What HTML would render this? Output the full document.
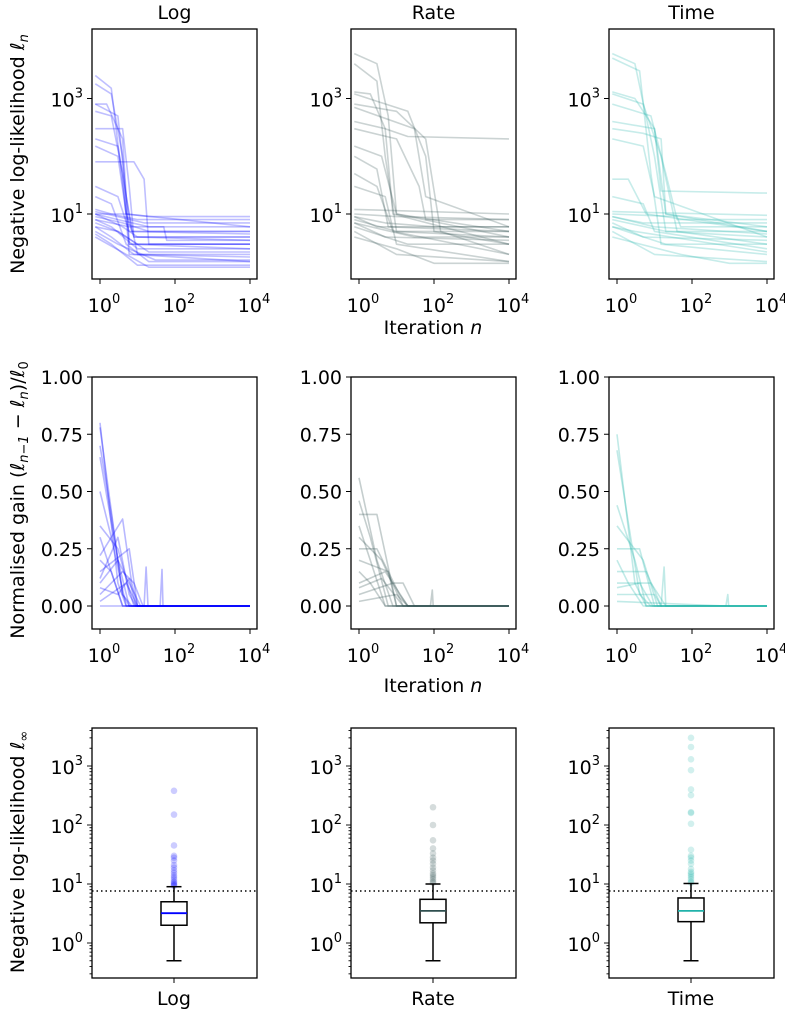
<!DOCTYPE html>
<html><head><meta charset="utf-8">
<style>
html,body{margin:0;padding:0;background:#fff;}
svg{display:block;font-family:"DejaVu Sans","Liberation Sans",sans-serif;}
</style></head>
<body>
<svg id="fig" width="785" height="1014" viewBox="0 0 785 1014" xmlns="http://www.w3.org/2000/svg"></svg>
<script>
// ---------- data ----------
const methods = ["Log","Rate","Time"];
const colors = ["#0000ff","#2f4f4f","#20b2aa"];

const nllLog = [
[[0.75,2500],[2,1500],[5,10],[8,4],[1e4,4]],
[[0.75,1800],[2,1200],[4,100],[6,3],[1e4,3]],
[[0.75,800],[1.5,800],[4,200],[6,3],[1e4,2.5]],
[[0.75,800],[3,500],[5,20],[7,5],[1e4,5]],
[[0.75,300],[4,300],[6,30],[8,4],[1e4,3.5]],
[[0.75,200],[3,150],[6,10],[10,2],[1e4,1.8]],
[[0.75,150],[3,100],[5,10],[1e4,6]],
[[0.75,80],[8,80],[15,40],[20,3],[1e4,3]],
[[0.75,30],[3,20],[6,5],[1e4,4.5]],
[[0.75,20],[2,15],[5,3],[20,1.5],[1e4,1.5]],
[[0.75,12],[2,10],[10,8],[1e4,8]],
[[0.75,10],[5,10],[20,9],[1e4,9]],
[[0.75,10],[3,8],[20,6],[50,6],[60,3.5],[1e4,3.5]],
[[0.75,9],[4,7],[20,5],[1e4,5]],
[[0.75,8],[2,6],[10,2.5],[1e4,2.5]],
[[0.75,7],[3,5],[10,3],[1e4,3]],
[[0.75,6],[2,4],[8,2],[1e4,1.5]],
[[0.75,5],[3,3],[30,1.6],[1e4,1.6]],
[[0.75,4.5],[2,3],[10,1.3],[1e4,1.3]],
[[0.75,4],[5,2],[20,1.2],[1e4,1.2]],
[[0.75,11],[3,9],[15,7],[1e4,7]],
[[0.75,8],[6,6],[1e4,6]],
[[0.75,600],[2,500],[4,50],[6,2],[1e4,2]],
[[0.75,10],[4,6],[10,4],[1e4,4]],
[[0.75,6],[3,5],[20,2.2],[1e4,2.2]]
];
const nllRate = [
[[0.75,6000],[3,4000],[6,500],[10,10],[1e4,5]],
[[0.75,4000],[3,2000],[5,100],[10,5],[1e4,4]],
[[0.75,1300],[2,1200],[5,300],[8,10],[1e4,3]],
[[0.75,1200],[20,600],[60,100],[100,5],[1e4,3]],
[[0.75,800],[10,600],[60,200],[150,5],[1e4,2]],
[[0.75,700],[30,300],[60,20],[1e4,6]],
[[0.75,400],[5,300],[20,220],[1e4,200]],
[[0.75,300],[10,200],[40,30],[60,8],[1e4,8]],
[[0.75,150],[4,100],[10,10],[1e4,4]],
[[0.75,100],[3,60],[6,6],[1e4,5]],
[[0.75,50],[3,30],[8,5],[1e4,2]],
[[0.75,30],[5,20],[10,3],[1e4,1.5]],
[[0.75,12],[1e4,10]],
[[0.75,10],[10,9],[1e4,8]],
[[0.75,9],[5,7],[100,6],[1e4,6]],
[[0.75,8],[10,5],[1e4,5]],
[[0.75,7],[5,4],[1e4,3.5]],
[[0.75,6],[20,3],[1e4,3]],
[[0.75,5],[10,2],[1e4,1.5]],
[[0.75,4],[10,2.5],[100,1.4],[1e4,1.4]],
[[0.75,7],[30,4],[1e4,4]],
[[0.75,9],[3,6],[1e4,6]]
];
const nllTime = [
[[0.75,6000],[3,4000],[10,100],[20,5],[1e4,4]],
[[0.75,5000],[4,3000],[8,50],[15,3],[1e4,2]],
[[0.75,1300],[3,1000],[10,300],[20,10],[1e4,5]],
[[0.75,1200],[5,800],[15,100],[40,5],[1e4,3]],
[[0.75,800],[8,500],[20,50],[40,8],[1e4,8]],
[[0.75,400],[10,300],[15,25],[1e4,23]],
[[0.75,300],[5,250],[15,200],[20,10],[1e4,6]],
[[0.75,200],[5,150],[10,20],[1e4,4]],
[[0.75,40],[2,40],[6,10],[1e4,5]],
[[0.75,20],[5,15],[10,5],[1e4,2.5]],
[[0.75,11],[1e4,9.5]],
[[0.75,10],[40,9],[50,6],[1e4,6]],
[[0.75,9],[5,7],[1e4,7]],
[[0.75,8],[20,5],[1e4,5]],
[[0.75,7],[5,4],[1e4,3.5]],
[[0.75,6],[20,3],[1e4,3]],
[[0.75,5],[10,2],[1e4,1.5]],
[[0.75,4],[50,2],[1000,1.4],[1e4,1.4]],
[[0.75,9],[10,6],[1e4,4.5]],
[[0.75,6],[3,5],[1e4,2.2]]
];
const gainLog = [
[[1,0.8],[3,0.1],[5,0],[1e4,0]],
[[1,0.78],[4,0.05],[6,0],[1e4,0]],
[[1,0.65],[3,0.2],[6,0],[1e4,0]],
[[1,0.5],[2,0.3],[5,0],[1e4,0]],
[[1,0.35],[3,0.25],[8,0],[1e4,0]],
[[1,0.22],[4,0.38],[7,0.1],[10,0],[1e4,0]],
[[1,0.15],[6,0.25],[10,0],[1e4,0]],
[[1,0.1],[3,0.2],[12,0],[1e4,0]],
[[1,0.05],[4,0.15],[8,0.1],[14,0],[1e4,0]],
[[1,0.02],[5,0.1],[10,0],[1e4,0]],
[[1,0.2],[2,0.15],[4,0],[1e4,0]],
[[1,0.3],[2.5,0.1],[4,0],[1e4,0]],
[[1,0],[15,0],[17,0.17],[19,0],[40,0],[45,0.16],[48,0],[1e4,0]],
[[1,0.08],[3,0.05],[6,0.12],[9,0],[1e4,0]],
[[1,0.7],[2,0.4],[4,0.05],[7,0],[1e4,0]],
[[1,0.12],[3,0.3],[6,0.05],[9,0],[1e4,0]]
];
const gainRate = [
[[1,0.56],[3,0.2],[8,0],[1e4,0]],
[[1,0.46],[2,0.3],[6,0],[1e4,0]],
[[1,0.4],[3,0.4],[10,0],[1e4,0]],
[[1,0.3],[4,0.2],[15,0],[1e4,0]],
[[1,0.25],[3,0.25],[12,0.05],[20,0],[1e4,0]],
[[1,0.2],[6,0.15],[10,0],[1e4,0]],
[[1,0.1],[5,0.15],[20,0],[1e4,0]],
[[1,0.05],[8,0.1],[15,0.1],[30,0],[1e4,0]],
[[1,0.15],[2,0.1],[5,0],[1e4,0]],
[[1,0.02],[10,0.05],[20,0],[80,0],[90,0.07],[95,0],[1e4,0]],
[[1,0.08],[4,0.12],[15,0],[1e4,0]],
[[1,0.35],[2,0.2],[5,0],[1e4,0]]
];
const gainTime = [
[[1,0.75],[3,0.1],[6,0],[1e4,0]],
[[1,0.68],[4,0.05],[8,0],[1e4,0]],
[[1,0.44],[3,0.2],[6,0],[1e4,0]],
[[1,0.35],[5,0.2],[12,0],[1e4,0]],
[[1,0.25],[4,0.25],[10,0],[1e4,0]],
[[1,0.15],[6,0.15],[15,0],[1e4,0]],
[[1,0.1],[8,0.1],[20,0],[1e4,0]],
[[1,0.05],[10,0.05],[15,0],[18,0.17],[20,0],[1e4,0]],
[[1,0.2],[2,0.1],[5,0],[1e4,0]],
[[1,0.02],[800,0],[900,0.05],[950,0],[1e4,0]],
[[1,0.08],[4,0.1],[9,0],[1e4,0]]
];
// box stats: [whiskerLow, q1, median, q3, whiskerHigh]
const boxLog = [0.5,2.0,3.2,5.0,9.0];
const boxRate = [0.5,2.2,3.5,5.5,10];
const boxTime = [0.5,2.3,3.5,5.8,10.2];
const outLog = [9.3,9.6,10,10.5,11,12,13,14,15.5,17,19,21,25,28,30,45,150,380];
const outRate = [10.5,11,12,13,14,15,17,19,22,25,28,33,40,55,100,200];
const outTime = [10.5,11,12,13,14,15,16,18,22,25,28,30,38,105,160,165,320,400,850,1300,2100,3000];
const threshold = [7.6];
const xTickExp = [0,2,4];
const nllTickExp = [1,3];
const gainTicks = [0,0.25,0.5,0.75,1.0];
const boxTickExp = [0,1,2,3];

// ---------- drawing ----------
const NS="http://www.w3.org/2000/svg";
const svg=document.getElementById('fig');
function el(tag,attrs,parent){const e=document.createElementNS(NS,tag);for(const k in attrs)e.setAttribute(k,attrs[k]);(parent||svg).appendChild(e);return e;}
const colX=[92,351,609], W=165;
const rows={top:[29,279],mid:[377,629],bot:[728,978]};
const FS=19, SUP=13;
function xs(c,n){return colX[c]+8+(Math.log10(n))*37.5;}
function yTop(v){return 214-(Math.log10(v)-1)*57.75;}
function yMid(v){return 606-v*(229/1.0);}
function yBot(v){return 943-Math.log10(v)*59;}

function powLabel(parent,x,y,exp,anchor,name){
  const t=el('text',{x:x,y:y,'font-size':FS,'text-anchor':anchor,fill:'#000'},parent);
  
  
  t.appendChild(document.createTextNode('10'));
  const s=el('tspan',{'font-size':SUP,dy:-9},t); s.textContent=String(exp);
  return t;
}
function frame(c,row,name){
  const [t,b]=rows[row];
  const r=el('rect',{x:colX[c],y:t,width:W,height:b-t,fill:'none',stroke:'#000','stroke-width':1.3});
  
  
}
function clipFor(c,row){
  const id='clip-'+row+c;
  const cp=el('clipPath',{id:id});
  el('rect',{x:colX[c],y:rows[row][0],width:W,height:rows[row][1]-rows[row][0]},cp);
  return 'url(#'+id+')';
}

// titles
methods.forEach((m,c)=>{
  const t=el('text',{x:colX[c]+W/2,y:19,'font-size':FS,'text-anchor':'middle'});
  
  
  t.textContent=m;
});

const nllSets=[nllLog,nllRate,nllTime], gainSets=[gainLog,gainRate,gainTime];
const boxSets=[boxLog,boxRate,boxTime], outSets=[outLog,outRate,outTime];

for(let c=0;c<3;c++){
  // top row
  const gT=el('g',{'clip-path':clipFor(c,'top')});
  
  
  nllSets[c].forEach((cur,i)=>{
    const p=el('polyline',{points:cur.map(k=>xs(c,k[0]).toFixed(1)+','+yTop(k[1]).toFixed(1)).join(' '),fill:'none',stroke:colors[c],'stroke-opacity':0.25,'stroke-width':1.6,'stroke-linejoin':'round'},gT);
    
    
  });
  frame(c,'top','nll-axes-'+methods[c].toLowerCase());
  xTickExp.forEach(e=>{
    const x=xs(c,Math.pow(10,e));
    el('line',{x1:x,x2:x,y1:279,y2:284,stroke:'#000','stroke-width':1});
    powLabel(svg,x+4,312,e,'middle','x-tick-label');
  });
  nllTickExp.forEach(e=>{
    const y=yTop(Math.pow(10,e));
    el('line',{x1:colX[c]-5,x2:colX[c],y1:y,y2:y,stroke:'#000','stroke-width':1});
    powLabel(svg,colX[c]-9,y+8,e,'end','y-tick-label');
  });
  // mid row
  const gM=el('g',{'clip-path':clipFor(c,'mid')});
  
  
  gainSets[c].forEach(cur=>{
    const p=el('polyline',{points:cur.map(k=>xs(c,k[0]).toFixed(1)+','+yMid(k[1]).toFixed(1)).join(' '),fill:'none',stroke:colors[c],'stroke-opacity':0.28,'stroke-width':1.6,'stroke-linejoin':'round'},gM);
    
    
  });
  frame(c,'mid','gain-axes-'+methods[c].toLowerCase());
  xTickExp.forEach(e=>{
    const x=xs(c,Math.pow(10,e));
    el('line',{x1:x,x2:x,y1:629,y2:634,stroke:'#000','stroke-width':1});
    powLabel(svg,x+4,662,e,'middle','x-tick-label');
  });
  gainTicks.forEach(v=>{
    const y=yMid(v);
    el('line',{x1:colX[c]-5,x2:colX[c],y1:y,y2:y,stroke:'#000','stroke-width':1});
    const t=el('text',{x:colX[c]-9,y:y+7,'font-size':FS,'text-anchor':'end'});
    
    
    t.textContent=v.toFixed(2);
  });
  // bottom row
  const cx=colX[c]+82;
  const b=boxSets[c];
  const gB=el('g',{'clip-path':clipFor(c,'bot')});
  
  
  outSets[c].forEach(v=>{
    const o=el('circle',{cx:cx,cy:yBot(v),r:3.3,fill:colors[c],'fill-opacity':0.2},gB);
    
    
  });
  const th=el('line',{x1:colX[c],x2:colX[c]+W,y1:yBot(threshold[0]),y2:yBot(threshold[0]),stroke:'#000','stroke-width':1.5,'stroke-dasharray':'1.5,3'},gB);
  
  
  el('line',{x1:cx,x2:cx,y1:yBot(b[0]),y2:yBot(b[1]),stroke:'#000','stroke-width':1.5},gB);
  el('line',{x1:cx,x2:cx,y1:yBot(b[3]),y2:yBot(b[4]),stroke:'#000','stroke-width':1.5},gB);
  el('line',{x1:cx-7.5,x2:cx+7.5,y1:yBot(b[0]),y2:yBot(b[0]),stroke:'#000','stroke-width':1.5},gB);
  el('line',{x1:cx-7.5,x2:cx+7.5,y1:yBot(b[4]),y2:yBot(b[4]),stroke:'#000','stroke-width':1.5},gB);
  const bx=el('rect',{x:cx-13,y:yBot(b[3]),width:26,height:yBot(b[1])-yBot(b[3]),fill:'none',stroke:'#000','stroke-width':1.5},gB);
  
  
  const md=el('line',{x1:cx-13,x2:cx+13,y1:yBot(b[2]),y2:yBot(b[2]),stroke:colors[c],'stroke-width':1.8},gB);
  
  
  frame(c,'bot','box-axes-'+methods[c].toLowerCase());
  el('line',{x1:cx,x2:cx,y1:978,y2:983,stroke:'#000','stroke-width':1});
  const xl=el('text',{x:cx,y:1005,'font-size':FS,'text-anchor':'middle'});
  
  
  xl.textContent=methods[c];
  for(let e=-1;e<=3;e++){
    for(let m=1;m<10;m++){
      const v=m*Math.pow(10,e); const y=yBot(v);
      if(y<728||y>978) continue;
      const len=m===1?5:2.5;
      el('line',{x1:colX[c]-len,x2:colX[c],y1:y,y2:y,stroke:'#000','stroke-width':0.9});
    }
  }
  boxTickExp.forEach(e=>{
    powLabel(svg,colX[c]-9,yBot(Math.pow(10,e))+8,e,'end','y-tick-label');
  });
}

// axis labels
function rotLabel(x,y,parts,name){
  const t=el('text',{x:0,y:0,'font-size':FS,'text-anchor':'middle',transform:'translate('+x+','+y+') rotate(-90)'});
  
  
  parts.forEach(p=>{const s=el('tspan',p.a||{},t);s.textContent=p.t;});
}
rotLabel(24,154,[{t:'Negative log-likelihood '},{t:'ℓ',a:{'font-style':'italic'}},{t:'n',a:{'font-size':SUP,dy:4,'font-style':'italic'}}],'y-axis-title-nll');
rotLabel(24,500,[{t:'Normalised gain ('},{t:'ℓ',a:{'font-style':'italic'}},{t:'n−1',a:{'font-size':SUP,dy:4,'font-style':'italic'}},{t:' − ',a:{dy:-4}},{t:'ℓ',a:{'font-style':'italic'}},{t:'n',a:{'font-size':SUP,dy:4,'font-style':'italic'}},{t:')/',a:{dy:-4}},{t:'ℓ',a:{'font-style':'italic'}},{t:'0',a:{'font-size':SUP,dy:4}}],'y-axis-title-gain');
rotLabel(24,852,[{t:'Negative log-likelihood '},{t:'ℓ',a:{'font-style':'italic'}},{t:'∞',a:{'font-size':SUP,dy:4}}],'y-axis-title-final');
[[334,'x-axis-title-top'],[692,'x-axis-title-mid']].forEach(([y,n])=>{
  const t=el('text',{x:433,y:y,'font-size':FS,'text-anchor':'middle'});
  
  
  t.appendChild(document.createTextNode('Iteration '));
  const s=el('tspan',{'font-style':'italic'},t); s.textContent='n';
});
</script>
</body></html>
